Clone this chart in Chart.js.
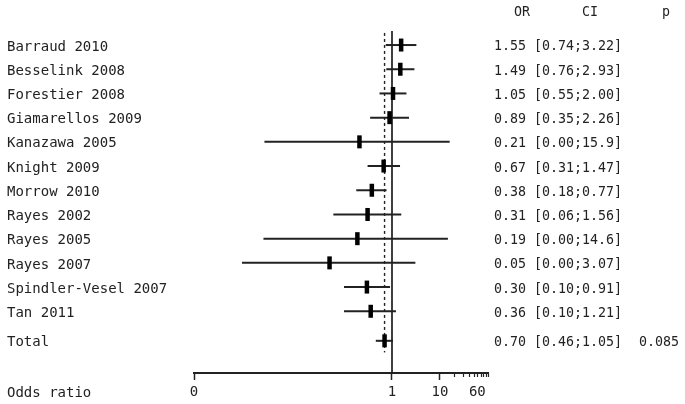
<!DOCTYPE html>
<html>
<head>
<meta charset="utf-8">
<script src="https://cdn.jsdelivr.net/npm/chart.js@4"></script>
<style>
  html, body { margin: 0; padding: 0; background: #fff; }
  #wrap { width: 685px; height: 404px; position: relative; }
</style>
</head>
<body>
<div id="wrap"><canvas id="forest"></canvas></div>
<script>
// Daten der Studien
const studies = ["Barraud 2010", "Besselink 2008", "Forestier 2008", "Giamarellos 2009",
  "Kanazawa 2005", "Knight 2009", "Morrow 2010", "Rayes 2002", "Rayes 2005",
  "Rayes 2007", "Spindler-Vesel 2007", "Tan 2011"];
const oddsRatios = [1.55, 1.49, 1.05, 0.89, 0.21, 0.67, 0.38, 0.31, 0.19, 0.05, 0.30, 0.36];
const ciLower = [0.74, 0.76, 0.55, 0.35, 0.0022, 0.31, 0.18, 0.06, 0.0021, 0.00075, 0.10, 0.10];
const ciUpper = [3.22, 2.93, 2.00, 2.26, 15.9, 1.47, 0.77, 1.56, 14.6, 3.07, 0.91, 1.21];

// Gepoolter Effekt
const totalLabel = "Total";
const totalOR = 0.70;
const totalLower = 0.46;
const totalUpper = 1.05;
const totalP = "0.085";

// Achse
const axisMin = 0.000075;
const axisMax = 100;
const majorTicks = [axisMin, 1, 10, 60];
const majorTickLabels = ["0", "1", "10", "60"];
const minorTicks = [20, 30, 40, 50, 60, 70, 80, 90, 100];

const totalRow = studies.length + 0.22; // etwas Abstand vor "Total"
const fmt = v => v >= 10 ? v.toFixed(1) : v.toFixed(2);

const datasets = [];
// Punktschätzer (dicke senkrechte Balken)
datasets.push({
  data: oddsRatios.map((v, i) => ({ x: v, y: i })).concat([{ x: totalOR, y: totalRow }]),
  pointStyle: "line", rotation: 90, pointRadius: 6.5, pointBorderWidth: 4.5,
  borderColor: "#000", backgroundColor: "#000", showLine: false
});
// Konfidenzintervalle
studies.forEach((s, i) => {
  datasets.push({
    data: [{ x: ciLower[i], y: i }, { x: ciUpper[i], y: i }],
    showLine: true, borderColor: "#222", borderWidth: 2, pointRadius: 0
  });
});
datasets.push({
  data: [{ x: totalLower, y: totalRow }, { x: totalUpper, y: totalRow }],
  showLine: true, borderColor: "#222", borderWidth: 2, pointRadius: 0
});
// Referenzlinie bei 1 und gestrichelte Linie beim Gesamteffekt
datasets.push({
  data: [{ x: 1, y: -0.58 }, { x: 1, y: 13.55 }],
  showLine: true, borderColor: "#111", borderWidth: 1.6, pointRadius: 0, clip: false
});
datasets.push({
  data: [{ x: totalOR, y: -0.5 }, { x: totalOR, y: 12.7 }],
  showLine: true, borderColor: "#222", borderWidth: 1.4, borderDash: [3, 3], pointRadius: 0
});

const monoFont = '"DejaVu Sans Mono", monospace';

const textPlugin = {
  id: "texts",
  afterDraw(chart) {
    const c = chart.ctx;
    const ys = chart.scales.y;
    const xs = chart.scales.x;
    c.save();
    c.fillStyle = "#222";
    c.textBaseline = "middle";
    c.font = "14px " + monoFont;
    studies.forEach((s, i) => c.fillText(s, 7, ys.getPixelForValue(i) + 2));
    c.fillText(totalLabel, 7, ys.getPixelForValue(totalRow) + 2);
    c.fillText("Odds ratio", 7, 393);

    c.font = "13.3px " + monoFont;
    studies.forEach((s, i) => {
      c.fillText(fmt(oddsRatios[i]) + " [" + fmt(ciLower[i]) + ";" + fmt(ciUpper[i]) + "]",
        494, ys.getPixelForValue(i) + 2);
    });
    const ty = ys.getPixelForValue(totalRow) + 2;
    c.fillText(fmt(totalOR) + " [" + fmt(totalLower) + ";" + fmt(totalUpper) + "]", 494, ty);
    c.fillText(totalP, 639, ty);
    // Kopfzeile
    c.textAlign = "center";
    c.fillText("OR", 522, 13);
    c.fillText("CI", 590, 13);
    c.fillText("p", 666, 13);

    // kleine Teilstriche der log-Achse
    c.strokeStyle = "#222";
    c.lineWidth = 1.2;
    const yb = chart.chartArea.bottom;
    minorTicks.forEach(v => {
      const px = Math.round(xs.getPixelForValue(v)) + 0.5;
      c.beginPath();
      c.moveTo(px, yb);
      c.lineTo(px, yb + 4);
      c.stroke();
    });
    c.restore();
  }
};

new Chart(document.getElementById("forest"), {
  type: "scatter",
  data: { datasets: datasets },
  options: {
    responsive: true,
    maintainAspectRatio: false,
    animation: false,
    layout: { padding: { left: 194, right: 197, top: 31, bottom: 0 } },
    plugins: { legend: { display: false }, tooltip: { enabled: false } },
    scales: {
      x: {
        type: "logarithmic",
        min: axisMin,
        max: axisMax,
        bounds: "data",
        afterBuildTicks: scale => { scale.ticks = majorTicks.map(v => ({ value: v })); },
        afterFit: scale => { scale.height = 31; },
        border: { display: true, color: "#222", width: 2 },
        grid: {
          drawOnChartArea: false, drawTicks: true, tickLength: 7, tickWidth: 1.5,
          tickColor: ctx => (ctx.tick && ctx.tick.value === 60) ? "rgba(0,0,0,0)" : "#222"
        },
        ticks: {
          autoSkip: false, maxRotation: 0, padding: 4, color: "#222",
          font: { family: monoFont, size: 14 },
          callback: (value, index) => majorTickLabels[index]
        }
      },
      y: {
        type: "linear",
        reverse: true,
        min: -0.58,
        max: 13.55,
        display: false
      }
    }
  },
  plugins: [textPlugin]
});
</script>
</body>
</html>
